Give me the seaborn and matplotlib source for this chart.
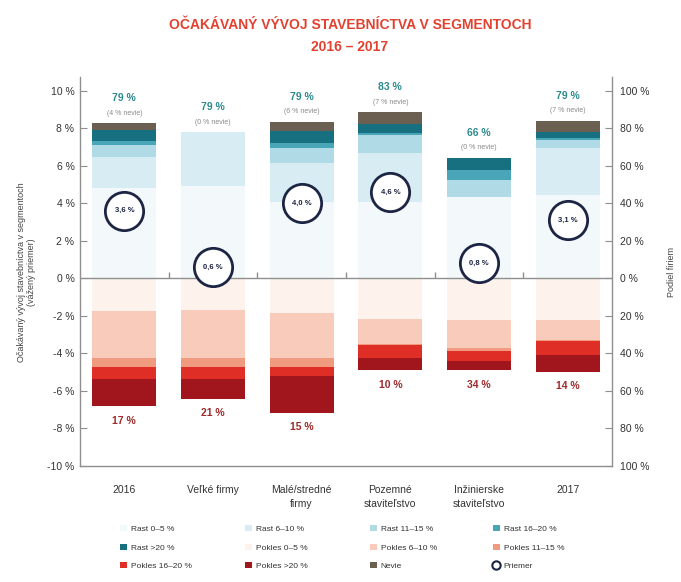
import numpy as np
import pandas as pd
import matplotlib
matplotlib.use("Agg")
import matplotlib.pyplot as plt
import seaborn as sns
from matplotlib.patches import Patch
from matplotlib.lines import Line2D

# ---------------- data ----------------
categories = ["2016", "Veľké firmy", "Malé/stredné\nfirmy", "Pozemné\nstaviteľstvo",
              "Inžinierske\nstaviteľstvo", "2017"]

# share of firms (%) - growth segments, stacked upward
rast_0_5 = [48.0, 49.1, 40.7, 40.7, 43.4, 44.3]
rast_6_10 = [16.7, 28.6, 20.8, 25.8, 0.0, 25.0]
rast_11_15 = [6.2, 0.0, 7.7, 9.7, 9.2, 4.2]
rast_16_20 = [2.2, 0.0, 2.6, 1.0, 5.0, 1.0]
rast_20 = [5.8, 0.0, 6.8, 4.8, 6.6, 3.5]
nevie = [3.6, 0.0, 4.8, 6.4, 0.0, 5.9]

# share of firms (%) - decline segments, stacked downward
pokles_0_5 = [17.4, 16.7, 18.5, 21.5, 22.4, 22.0]
pokles_6_10 = [24.9, 25.6, 23.8, 13.5, 14.6, 11.0]
pokles_11_15 = [5.0, 5.0, 5.0, 0.7, 1.9, 0.4]
pokles_16_20 = [6.2, 6.2, 5.0, 6.6, 5.2, 7.3]
pokles_20 = [14.8, 11.0, 19.5, 6.8, 5.0, 9.3]

# weighted average expected development (%)
priemer = [3.6, 0.6, 4.0, 4.6, 0.8, 3.1]

# annotation values
rast_total = [79, 79, 79, 83, 66, 79]
nevie_total = [4, 0, 6, 7, 0, 7]
pokles_total = [17, 21, 15, 10, 34, 14]

pos_names = ["Rast 0–5 %", "Rast 6–10 %", "Rast 11–15 %", "Rast 16–20 %", "Rast >20 %", "Nevie"]
neg_names = ["Pokles 0–5 %", "Pokles 6–10 %", "Pokles 11–15 %", "Pokles 16–20 %", "Pokles >20 %"]

pos_colors = ["#f3f9fb", "#d7ecf3", "#b0dae5", "#49a6b8", "#16707f", "#6b5f52"]
neg_colors = ["#fdf2ec", "#f8cbbb", "#f09a80", "#de2e26", "#a0161c"]

# ---------------- style ----------------
sns.set_theme(style="white")
FONT = ["Liberation Sans Narrow", "Liberation Sans", "DejaVu Sans"]
plt.rcParams["font.family"] = FONT

fig = plt.figure(figsize=(6.81, 5.82), dpi=100)
ax = fig.add_axes([0.1175, 0.1993, 0.7812, 0.6677])
ax2 = ax.twinx()

pos_df = pd.DataFrame({"cat": categories, **{n: v for n, v in zip(pos_names, [rast_0_5, rast_6_10, rast_11_15, rast_16_20, rast_20, nevie])}})
neg_df = pd.DataFrame({"cat": categories, **{n: v for n, v in zip(neg_names, [pokles_0_5, pokles_6_10, pokles_11_15, pokles_16_20, pokles_20])}})

pos_cum = pos_df[pos_names].cumsum(axis=1)
neg_cum = -neg_df[neg_names].cumsum(axis=1)

# draw cumulative bars from the outermost segment inward so that they stack visually
for name, col in reversed(list(zip(pos_names, pos_colors))):
    sns.barplot(x=pos_df["cat"], y=pos_cum[name], color=col, saturation=1, width=0.72,
                errorbar=None, ax=ax, linewidth=0)
for name, col in reversed(list(zip(neg_names, neg_colors))):
    sns.barplot(x=neg_df["cat"], y=neg_cum[name], color=col, saturation=1, width=0.72,
                errorbar=None, ax=ax, linewidth=0)

ax.set_ylim(-100, 107)
ax.set_xlim(-0.5, len(categories) - 0.5)
spine_col = "#8f8f8f"
ax.axhline(0, color=spine_col, lw=1.0, zorder=3)
xs = np.arange(len(categories))
ax.vlines(xs[:-1] + 0.5, 0, 3.5, color=spine_col, lw=1.0, zorder=3)

# right axis: share of firms (bars live on ax)
ax.yaxis.set_label_position("right")
rticks = np.arange(-100, 101, 20)
ax.set_yticks(rticks)
ax.set_yticklabels([f"{abs(v)} %" for v in rticks])
ax.set_ylabel("Podiel firiem", fontsize=6.5, color="#444444", labelpad=12)
ax.tick_params(axis="y", which="both", direction="in", length=5, width=0.8, color=spine_col,
               labelsize=7.5, labelcolor="#333333", pad=6,
               right=True, left=False, labelright=True, labelleft=False)

ax.set_xticks(xs)
ax.set_xticklabels(categories, fontsize=7.5, color="#333333", linespacing=1.5)
ax.tick_params(axis="x", length=0, pad=14)
ax.set_xlabel("")

for side in ["left", "right", "bottom"]:
    ax.spines[side].set_visible(True)
    ax.spines[side].set_color(spine_col)
    ax.spines[side].set_linewidth(1.0)
ax.spines["top"].set_visible(False)

# labels above/below bars
pos_top = pos_cum[pos_names[-1]].values
neg_bot = neg_cum[neg_names[-1]].values
for i in xs:
    ax.text(i, pos_top[i] + 13.3, f"{rast_total[i]} %", ha="center", va="center",
            fontsize=7.5, fontweight="bold", color="#2b8a8c")
    ax.text(i, pos_top[i] + 5.4, f"({nevie_total[i]} % nevie)", ha="center", va="center",
            fontsize=5, color="#8a8a8a")
    ax.text(i, neg_bot[i] - 7.5, f"{pokles_total[i]} %", ha="center", va="center",
            fontsize=7.5, fontweight="bold", color="#9e2a2b")

# left axis: weighted average (ax2)
ax2.set_ylim(-10, 10.7)
ax2.yaxis.set_label_position("left")
lticks = np.arange(-10, 11, 2)
ax2.set_yticks(lticks)
ax2.set_yticklabels([f"{v} %" for v in lticks])
ax2.tick_params(axis="y", which="both", direction="in", length=5, width=0.8, color=spine_col,
                labelsize=7.5, labelcolor="#333333", pad=4,
                left=True, right=False, labelleft=True, labelright=False)
ax2.set_ylabel("Očakávaný vývoj stavebníctva v segmentoch\n(vážený priemer)",
               fontsize=6.5, color="#444444", labelpad=8)
for s in ax2.spines.values():
    s.set_visible(False)

navy = "#1d2544"
sns.scatterplot(x=xs, y=priemer, ax=ax2, s=760, color="white", edgecolor=navy,
                linewidth=2.0, zorder=5, legend=False)
for i, v in zip(xs, priemer):
    ax2.text(i, v, f"{v:.1f} %".replace(".", ","), ha="center", va="center",
             fontsize=5.5, fontweight="bold", color=navy, zorder=6)

# title
title_col = "#e2412f"
fig.text(0.514, 0.957, "OČAKÁVANÝ VÝVOJ STAVEBNÍCTVA V SEGMENTOCH", ha="center", va="center",
         fontsize=10, fontweight="bold", color=title_col)
fig.text(0.514, 0.919, "2016 – 2017", ha="center", va="center",
         fontsize=10, fontweight="bold", color=title_col)

# legend (row-major order, 4 columns)
handles = [Patch(facecolor=c, edgecolor="none") for c in pos_colors[:5]] + \
          [Patch(facecolor=c, edgecolor="none") for c in neg_colors] + \
          [Patch(facecolor=pos_colors[5], edgecolor="none"),
           Line2D([], [], marker="o", ls="", mfc="white", mec=navy, mew=1.5, ms=6)]
labels = pos_names[:5] + neg_names + ["Nevie", "Priemer"]
col_x = [120 / 681, 245 / 681, 370 / 681, 493 / 681]
for c in range(4):
    idx = [r * 4 + c for r in range(3)]
    fig.legend([handles[k] for k in idx], [labels[k] for k in idx],
               loc="upper left", bbox_to_anchor=(col_x[c], 1 - 525 / 582),
               frameon=False, fontsize=6, handlelength=0.8, handleheight=0.8,
               handletextpad=0.5, labelspacing=1.25, borderpad=0, borderaxespad=0,
               labelcolor="#333333")

fig.savefig("out.png", dpi=100)
